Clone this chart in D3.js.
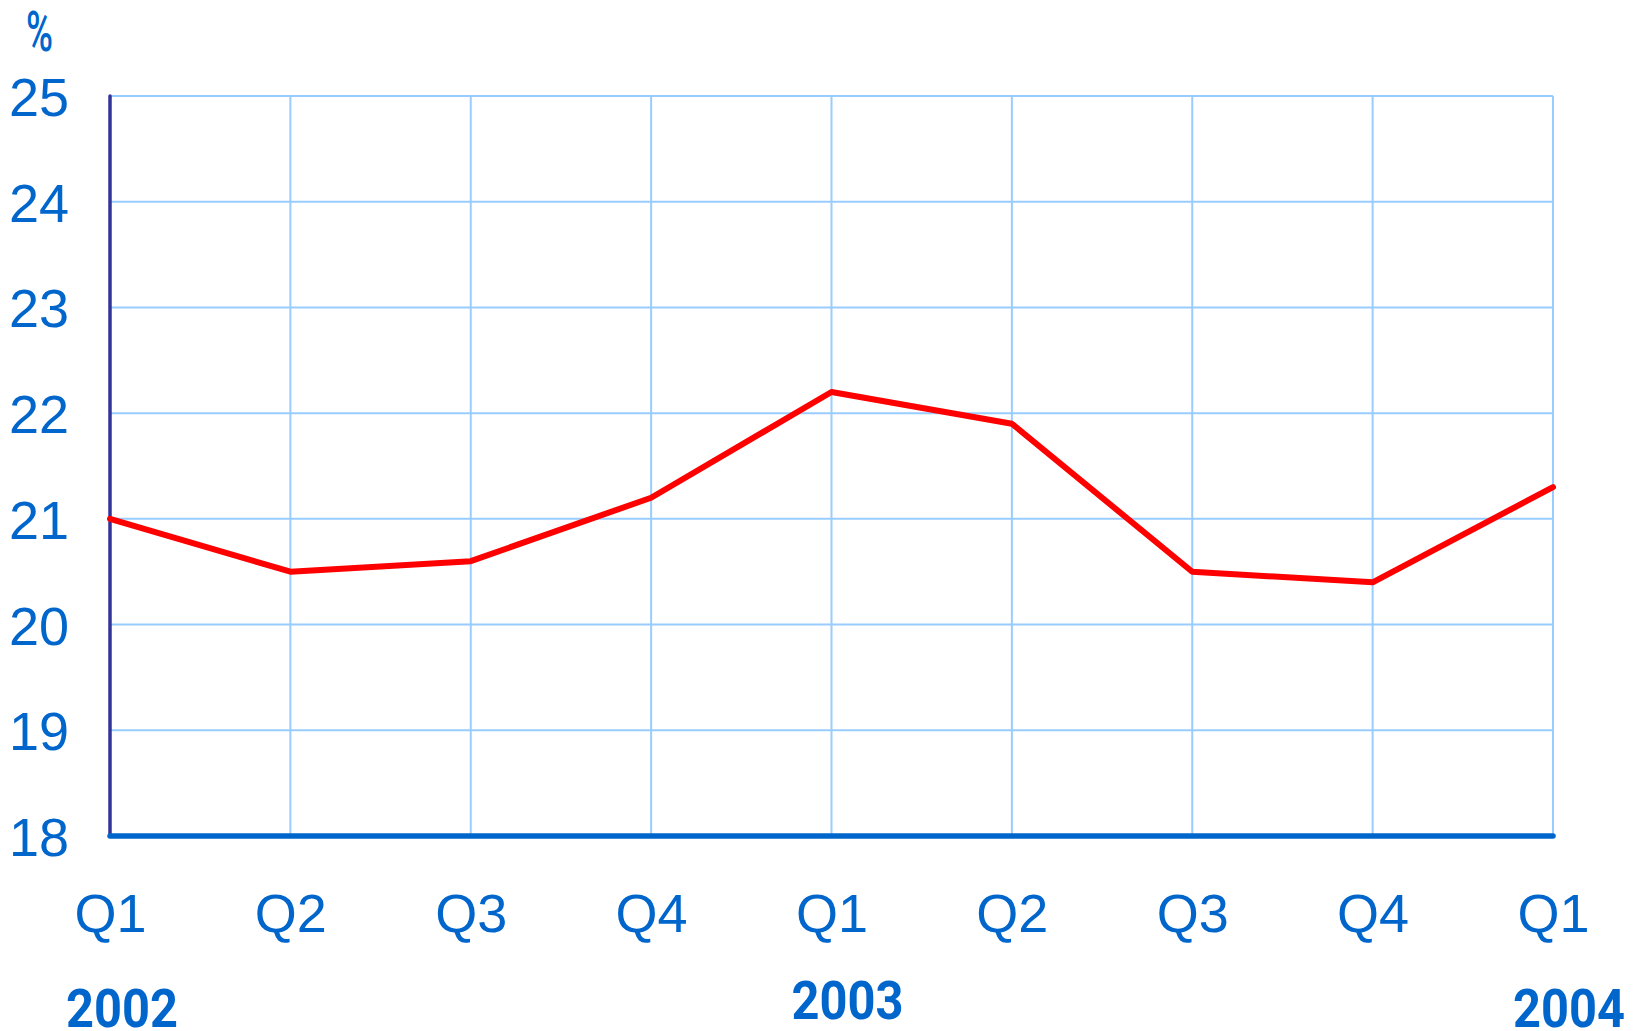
<!DOCTYPE html>
<html><head><meta charset="utf-8">
<script src="https://cdn.jsdelivr.net/npm/d3@7"></script>
<style>html,body{margin:0;padding:0;background:#fff;}svg{display:block;}</style>
</head><body>
<script>
const categories = ["Q1","Q2","Q3","Q4","Q1","Q2","Q3","Q4","Q1"];
const values = [21.0, 20.5, 20.6, 21.2, 22.2, 21.9, 20.5, 20.4, 21.3];
const yTicks = [18,19,20,21,22,23,24,25];
const yearLabels = ["2002","2003","2004"];
const yearIndex = [0,4,8];

const W = 1638, H = 1031;
const svg = d3.select("body").append("svg").attr("width", W).attr("height", H);
const blue = "#0066CC";

const x = d3.scalePoint().domain(d3.range(categories.length)).range([110, 1553]);
const y = d3.scaleLinear().domain([18, 25]).range([836, 96]);

// gridlines
const grid = svg.append("g");
grid.selectAll("line.h").data(yTicks.slice(1)).join("line")
  .attr("x1", x(0)).attr("x2", x(categories.length-1))
  .attr("y1", d=>y(d)).attr("y2", d=>y(d))
  .attr("stroke", "#99CCFF").attr("stroke-width", 2);
grid.selectAll("line.v").data(d3.range(1, categories.length)).join("line")
  .attr("x1", d=>x(d)).attr("x2", d=>x(d))
  .attr("y1", y(25)).attr("y2", y(18))
  .attr("stroke", "#99CCFF").attr("stroke-width", 2);

// y axis labels
const yAxis = d3.axisLeft(y).tickValues(yTicks).tickSize(0).tickPadding(41).tickFormat(d3.format("d"));
const gy = svg.append("g").attr("transform", `translate(${x(0)},0)`).call(yAxis);
gy.select(".domain").remove();
gy.selectAll("text").attr("fill", blue).attr("font-family", "'Liberation Sans', Arial, sans-serif")
  .attr("font-size", 54).attr("dy", "0.36em");

// x axis labels
const xAxis = d3.axisBottom(x).tickSize(0).tickPadding(0).tickFormat(i => categories[i]);
const gx = svg.append("g").attr("transform", `translate(0,${y(18)})`).call(xAxis);
gx.select(".domain").remove();
gx.selectAll("text").attr("fill", blue).attr("font-family", "'Liberation Sans', Arial, sans-serif")
  .attr("font-size", 54).attr("dy", null).attr("y", 96);

// left axis line
svg.append("line").attr("x1", x(0)).attr("x2", x(0)).attr("y1", y(25)).attr("y2", y(18))
  .attr("stroke", "#333399").attr("stroke-width", 3.5).attr("stroke-linecap", "round");
// bottom axis line
svg.append("line").attr("x1", x(0)).attr("x2", x(categories.length-1)).attr("y1", y(18)).attr("y2", y(18))
  .attr("stroke", blue).attr("stroke-width", 5.5).attr("stroke-linecap", "round");

// data line
svg.append("path").datum(values)
  .attr("d", d3.line().x((d,i)=>x(i)).y(d=>y(d)))
  .attr("fill", "none").attr("stroke", "#FF0000").attr("stroke-width", 6)
  .attr("stroke-linejoin", "round").attr("stroke-linecap", "round");

// year labels
svg.selectAll("text.year").data(yearLabels).join("text")
  .attr("class", "year")
  .attr("x", (d,i)=>x(yearIndex[i]) + [12, 16, 16][i])
  .attr("y", (d,i)=>[1027, 1019, 1027][i])
  .attr("text-anchor", "middle")
  .attr("font-family", "Roboto, sans-serif").attr("font-weight", 700).attr("font-size", 54)
  .attr("textLength", 112).attr("lengthAdjust", "spacingAndGlyphs")
  .attr("fill", blue).text(d=>d);

// % unit label
svg.append("text").attr("x", 26).attr("y", 51)
  .attr("font-family", "Roboto, sans-serif").attr("font-weight", 500).attr("font-size", 56)
  .attr("textLength", 27).attr("lengthAdjust", "spacingAndGlyphs")
  .attr("fill", blue).text("%");
</script>
</body></html>
